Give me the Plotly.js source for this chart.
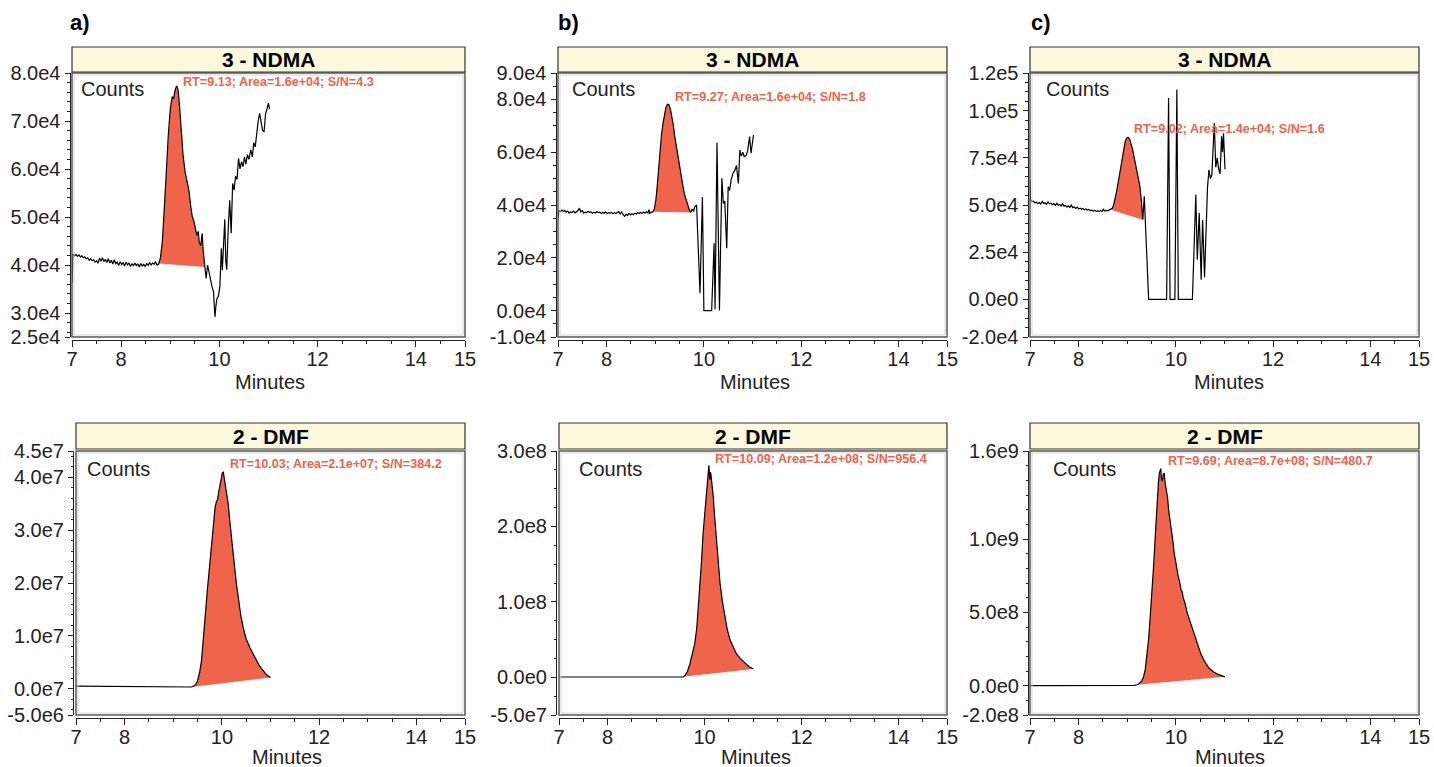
<!DOCTYPE html>
<html><head><meta charset="utf-8">
<script src="https://cdn.plot.ly/plotly-3.0.1.min.js"></script>
<style>html,body{margin:0;padding:0;background:#fff}#chart{width:1434px;height:767px}</style>
</head><body><div id="chart"></div>
<script>
// ---------------- DATA ----------------
const panelLetters = ['a)', 'b)', 'c)'];
const compoundTitles = ['3 - NDMA', '2 - DMF'];
const xTickVals = [7, 8, 10, 12, 14, 15];
const xTickText = ['7', '8', '10', '12', '14', '15'];
const xRange = [7, 15];

// 3 - NDMA, sample a
const ndmaA_t = [7.00,7.02,7.05,7.08,7.11,7.14,7.17,7.20,7.23,7.26,7.29,7.32,7.35,7.38,7.41,7.44,7.47,7.50,7.53,7.56,7.59,7.62,7.65,7.68,7.71,7.74,7.77,7.80,7.83,7.86,7.89,7.92,7.95,7.98,8.01,8.04,8.07,8.10,8.13,8.16,8.19,8.22,8.25,8.28,8.31,8.34,8.37,8.40,8.43,8.46,8.49,8.52,8.55,8.58,8.61,8.64,8.67,8.70,8.73,8.76,8.80,8.84,8.88,8.92,8.96,9.00,9.04,9.07,9.10,9.13,9.16,9.19,9.22,9.26,9.30,9.34,9.38,9.42,9.45,9.48,9.51,9.54,9.57,9.59,9.62,9.65,9.67,9.70,9.73,9.76,9.79,9.82,9.85,9.88,9.91,9.93,9.95,9.98,10.01,10.04,10.06,10.08,10.11,10.13,10.15,10.18,10.21,10.24,10.27,10.30,10.33,10.36,10.39,10.42,10.45,10.48,10.51,10.54,10.57,10.60,10.64,10.67,10.70,10.73,10.76,10.79,10.82,10.85,10.88,10.91,10.94,10.97,11.00,11.02];
const ndmaA_v = [36300,42300,41900,42200,41800,42100,41700,41900,41500,41700,41300,41500,41000,41300,40900,41100,40600,40900,40400,41400,40800,41500,40700,41200,40500,41300,40400,41000,40200,41100,40300,40600,39900,40700,40100,40500,39800,40600,40000,40400,39700,40300,39800,40400,39900,40200,39600,40300,39800,40100,39700,40300,39900,40500,40000,40400,40200,40700,40000,40100,41500,45000,52000,60000,67000,72500,75000,74800,76500,77300,76500,73000,68000,63000,59500,57500,55500,52000,50000,49200,47500,46200,47000,44800,44000,46600,43000,39600,37200,40000,38300,36500,35500,34500,29200,31500,33000,33500,35500,43500,38900,43100,49500,41000,39000,47500,53500,46600,57000,55600,58500,57800,62200,60000,61500,60500,62500,61000,63000,62000,64000,62500,65500,64600,68000,70000,71600,69500,68000,67800,71500,72500,73700,72500];
const ndmaA_peak = [8.64, 9.70];
const ndmaA_yTicks = [25000, 30000, 40000, 50000, 60000, 70000, 80000];
const ndmaA_yText = ['2.5e4', '3.0e4', '4.0e4', '5.0e4', '6.0e4', '7.0e4', '8.0e4'];
const ndmaA_yRange = [25000, 80000];
const ndmaA_label = 'RT=9.13; Area=1.6e+04; S/N=4.3';

// 3 - NDMA, sample b
const ndmaB_t = [7.00,7.02,7.05,7.08,7.11,7.14,7.17,7.20,7.23,7.26,7.29,7.32,7.35,7.38,7.41,7.44,7.47,7.50,7.53,7.56,7.59,7.62,7.65,7.68,7.71,7.74,7.77,7.80,7.83,7.86,7.89,7.92,7.95,7.98,8.01,8.04,8.07,8.10,8.13,8.16,8.19,8.22,8.25,8.28,8.31,8.34,8.37,8.40,8.43,8.46,8.49,8.52,8.55,8.58,8.61,8.64,8.67,8.70,8.73,8.76,8.79,8.82,8.85,8.87,8.89,8.92,8.95,8.98,9.01,9.04,9.07,9.10,9.13,9.16,9.19,9.22,9.25,9.28,9.31,9.34,9.37,9.40,9.43,9.46,9.49,9.52,9.55,9.58,9.61,9.64,9.67,9.70,9.73,9.76,9.79,9.81,9.85,9.87,9.89,9.92,9.97,10.00,10.16,10.21,10.23,10.27,10.32,10.37,10.40,10.43,10.47,10.50,10.53,10.56,10.60,10.64,10.67,10.71,10.74,10.77,10.80,10.83,10.87,10.90,10.94,10.97,11.02];
const ndmaB_v = [35000,37900,37500,38100,37600,37900,37300,37700,36900,37400,37200,37700,37000,37500,37900,38800,37400,37900,36900,37300,37100,37600,37200,37400,36900,37300,37000,37500,37100,37300,36800,37200,36900,37300,36800,37100,36900,37200,36700,37100,36800,37200,37500,36600,37400,36300,35700,36500,36000,36800,36200,36700,36300,36900,36600,37100,36800,37200,36900,37300,37000,37400,37000,38200,36800,37300,37400,38500,41500,47000,54000,61000,67000,71000,74500,77000,78200,78000,76500,74000,70500,66000,62500,58500,54800,51500,48500,46000,43500,41500,39800,38200,37200,38500,37600,39200,40000,30000,26800,6600,43000,0,0,25500,500,63600,0,50100,40600,41500,23600,46900,45500,49500,52000,53300,55000,48200,60800,58500,60000,58300,58800,60500,65900,59600,66500];
const ndmaB_peak = [8.95, 9.73];
const ndmaB_yTicks = [-10000, 0, 20000, 40000, 60000, 80000, 90000];
const ndmaB_yText = ['-1.0e4', '0.0e4', '2.0e4', '4.0e4', '6.0e4', '8.0e4', '9.0e4'];
const ndmaB_yRange = [-10000, 90000];
const ndmaB_label = 'RT=9.27; Area=1.6e+04; S/N=1.8';

// 3 - NDMA, sample c
const ndmaC_t = [7.00,7.01,7.04,7.07,7.10,7.13,7.16,7.19,7.22,7.25,7.28,7.31,7.34,7.37,7.40,7.43,7.46,7.49,7.52,7.55,7.58,7.61,7.64,7.67,7.70,7.73,7.76,7.79,7.82,7.85,7.88,7.91,7.94,7.97,8.00,8.03,8.06,8.09,8.12,8.15,8.18,8.21,8.24,8.27,8.30,8.33,8.36,8.39,8.42,8.45,8.48,8.51,8.54,8.57,8.60,8.63,8.66,8.69,8.72,8.75,8.78,8.81,8.84,8.87,8.90,8.93,8.96,8.99,9.02,9.05,9.08,9.11,9.14,9.17,9.20,9.23,9.26,9.29,9.32,9.35,9.37,9.44,9.81,9.85,9.88,9.98,10.02,10.05,10.34,10.41,10.44,10.48,10.52,10.55,10.59,10.63,10.65,10.68,10.71,10.74,10.77,10.79,10.82,10.85,10.88,10.91,10.94,10.96,10.98,11.01];
const ndmaC_v = [63400,53000,51800,52000,51200,51500,50800,51300,50500,51900,50800,51200,50300,51700,50600,50900,50100,50700,49800,50900,49900,50300,49500,50600,49400,49800,48900,49600,48700,49900,48600,49000,48200,48900,47900,48300,47700,48100,47500,47900,47300,47600,47000,47300,46800,47100,46700,46900,46600,47100,46600,47700,46800,47100,46900,47300,47500,48200,50000,53000,57000,61500,66500,71500,76500,81000,84000,85500,85800,84800,82500,79500,75500,71500,68000,64500,60000,52500,42200,54600,42000,0,0,106700,0,0,111200,0,0,55500,21000,45800,10400,42000,11700,50200,59000,68700,64000,66000,79300,93500,70000,75000,69000,66500,86400,78000,88000,69000];
const ndmaC_peak = [8.66, 9.32];
const ndmaC_yTicks = [-20000, 0, 25000, 50000, 75000, 100000, 120000];
const ndmaC_yText = ['-2.0e4', '0.0e0', '2.5e4', '5.0e4', '7.5e4', '1.0e5', '1.2e5'];
const ndmaC_yRange = [-20000, 120000];
const ndmaC_label = 'RT=9.02; Area=1.4e+04; S/N=1.6';

// 2 - DMF, sample a
const dmfA_t = [7.00,7.50,8.00,8.50,9.00,9.30,9.38,9.42,9.46,9.50,9.54,9.58,9.62,9.66,9.70,9.74,9.78,9.82,9.86,9.89,9.91,9.93,9.96,9.99,10.01,10.03,10.05,10.07,10.10,10.13,10.16,10.20,10.24,10.27,10.30,10.34,10.39,10.44,10.50,10.58,10.65,10.72,10.78,10.85,10.92,11.00];
const dmfA_v = [450000,420000,380000,340000,300000,280000,300000,500000,700000,1500000,3000000,5200000,9000000,14000000,18500000,22500000,26500000,30500000,34300000,35500000,35700000,37000000,38800000,40300000,40900000,41000000,39800000,39300000,37000000,35000000,32000000,28000000,24800000,22300000,19800000,16600000,13800000,11500000,9400000,7700000,6300000,5200000,4200000,3300000,2600000,2100000];
const dmfA_peak = [9.38, 11.00];
const dmfA_yTicks = [-5e6, 0, 1e7, 2e7, 3e7, 4e7, 4.5e7];
const dmfA_yText = ['-5.0e6', '0.0e7', '1.0e7', '2.0e7', '3.0e7', '4.0e7', '4.5e7'];
const dmfA_yRange = [-5e6, 4.5e7];
const dmfA_label = 'RT=10.03; Area=2.1e+07; S/N=384.2';

// 2 - DMF, sample b
const dmfB_t = [7.00,7.50,8.00,8.50,9.00,9.30,9.50,9.56,9.60,9.65,9.70,9.75,9.80,9.84,9.87,9.91,9.94,9.97,10.01,10.04,10.06,10.08,10.09,10.10,10.11,10.12,10.13,10.15,10.18,10.21,10.25,10.28,10.32,10.37,10.42,10.47,10.53,10.60,10.66,10.75,10.84,10.92,11.01];
const dmfB_v = [400000,380000,350000,330000,300000,280000,300000,600000,2500000,8000000,18000000,30000000,45000000,65000000,89000000,122000000,155000000,190000000,222000000,245000000,262000000,278000000,281000000,272000000,262000000,272000000,270000000,258000000,240000000,212000000,178000000,150000000,125000000,100000000,80000000,63000000,49000000,39000000,31000000,24000000,18000000,14000000,11000000];
const dmfB_peak = [9.56, 11.01];
const dmfB_yTicks = [-5e7, 0, 1e8, 2e8, 3e8];
const dmfB_yText = ['-5.0e7', '0.0e0', '1.0e8', '2.0e8', '3.0e8'];
const dmfB_yRange = [-5e7, 3e8];
const dmfB_label = 'RT=10.09; Area=1.2e+08; S/N=956.4';

// 2 - DMF, sample c
const dmfC_t = [7.00,7.50,8.00,8.50,9.00,9.15,9.20,9.25,9.30,9.33,9.37,9.40,9.44,9.47,9.51,9.54,9.58,9.61,9.64,9.66,9.67,9.69,9.70,9.72,9.74,9.76,9.78,9.80,9.81,9.83,9.85,9.87,9.88,9.90,9.92,9.94,9.95,9.97,9.99,10.02,10.04,10.05,10.07,10.09,10.11,10.13,10.15,10.19,10.23,10.29,10.35,10.43,10.51,10.60,10.68,10.77,10.88,11.01];
const dmfC_v = [500000,450000,400000,350000,300000,2000000,6000000,15000000,35000000,55000000,110000000,190000000,320000000,460000000,640000000,805000000,1040000000,1260000000,1380000000,1450000000,1460000000,1480000000,1420000000,1395000000,1440000000,1450000000,1380000000,1340000000,1300000000,1280000000,1200000000,1160000000,1110000000,1080000000,1030000000,980000000,940000000,890000000,860000000,790000000,770000000,740000000,720000000,680000000,650000000,640000000,600000000,560000000,500000000,440000000,380000000,290000000,220000000,160000000,120000000,95000000,75000000,60000000];
const dmfC_peak = [9.20, 11.01];
const dmfC_yTicks = [-2e8, 0, 5e8, 1e9, 1.6e9];
const dmfC_yText = ['-2.0e8', '0.0e0', '5.0e8', '1.0e9', '1.6e9'];
const dmfC_yRange = [-2e8, 1.6e9];
const dmfC_label = 'RT=9.69; Area=8.7e+08; S/N=480.7';

// ---------------- LAYOUT (pixel geometry) ----------------
const W = 1434, H = 767;
const FONT = 'Liberation Sans, Arial, Helvetica, sans-serif';
const INK = '#222';
const PEAK_FILL = '#f0644b';
const PEAK_TEXT = '#f0624a';
const px = v => v / W;
const py = v => 1 - v / H;

const panels = [
  {t: ndmaA_t, v: ndmaA_v, peak: ndmaA_peak, yt: ndmaA_yTicks, ytx: ndmaA_yText, yr: ndmaA_yRange, minor: 2000, label: ndmaA_label, title: compoundTitles[0],
   box: [72, 465, 73, 337], yLine: 69.5, xLine: 340, tbox: [47, 72], lab: [181, 82], cnt: [79, 89], mins: [270, 382]},
  {t: ndmaB_t, v: ndmaB_v, peak: ndmaB_peak, yt: ndmaB_yTicks, ytx: ndmaB_yText, yr: ndmaB_yRange, minor: 5000, label: ndmaB_label, title: compoundTitles[0],
   box: [558, 947, 73, 337], yLine: 555.5, xLine: 340, tbox: [47, 72], lab: [673, 97], cnt: [570, 89], mins: [755, 382]},
  {t: ndmaC_t, v: ndmaC_v, peak: ndmaC_peak, yt: ndmaC_yTicks, ytx: ndmaC_yText, yr: ndmaC_yRange, minor: 5000, label: ndmaC_label, title: compoundTitles[0],
   box: [1030, 1419, 73, 337], yLine: 1027.5, xLine: 340, tbox: [47, 72], lab: [1132, 129], cnt: [1044, 89], mins: [1229, 382]},
  {t: dmfA_t, v: dmfA_v, peak: dmfA_peak, yt: dmfA_yTicks, ytx: dmfA_yText, yr: dmfA_yRange, minor: 2e6, label: dmfA_label, title: compoundTitles[1],
   box: [76, 465, 451, 715], yLine: 73, xLine: 718, tbox: [423, 449], lab: [228, 464], cnt: [85, 469], mins: [287, 757]},
  {t: dmfB_t, v: dmfB_v, peak: dmfB_peak, yt: dmfB_yTicks, ytx: dmfB_yText, yr: dmfB_yRange, minor: 2.5e7, label: dmfB_label, title: compoundTitles[1],
   box: [559, 947, 451, 715], yLine: 556, xLine: 718, tbox: [423, 449], lab: [713, 459], cnt: [577, 469], mins: [756, 757]},
  {t: dmfC_t, v: dmfC_v, peak: dmfC_peak, yt: dmfC_yTicks, ytx: dmfC_yText, yr: dmfC_yRange, minor: 1e8, label: dmfC_label, title: compoundTitles[1],
   box: [1030, 1419, 451, 715], yLine: 1028, xLine: 718, tbox: [423, 449], lab: [1166, 461], cnt: [1051, 469], mins: [1230, 757]}
];
const letterPos = [[68, 22], [556, 22], [1029, 22]];

const traces = [];
const layout = {
  width: W, height: H,
  margin: {l: 0, r: 0, t: 0, b: 0},
  paper_bgcolor: '#fff', plot_bgcolor: '#fff',
  showlegend: false, hovermode: false,
  font: {family: FONT, color: INK, size: 20},
  shapes: [], annotations: []
};

panels.forEach((p, i) => {
  const n = i + 1;
  const xa = 'x' + n, ya = 'y' + n;
  const [L, R, T, B] = p.box;
  // peak fill polygon from the data between integration limits
  const ft = [], fv = [];
  p.t.forEach((tt, k) => { if (tt >= p.peak[0] - 1e-9 && tt <= p.peak[1] + 1e-9) { ft.push(tt); fv.push(p.v[k]); } });
  traces.push({x: ft, y: fv, xaxis: xa, yaxis: ya, type: 'scatter', mode: 'lines', fill: 'toself',
    fillcolor: PEAK_FILL, line: {width: 0, color: PEAK_FILL}});
  traces.push({x: p.t, y: p.v, xaxis: xa, yaxis: ya, type: 'scatter', mode: 'lines',
    line: {color: '#000', width: 1.2}});

  const xKey = 'xaxis' + (n === 1 ? '' : n), yKey = 'yaxis' + (n === 1 ? '' : n);
  layout[xKey] = {
    domain: [px(L), px(R)], anchor: 'free', position: py(p.xLine), range: xRange,
    tickmode: 'array', tickvals: xTickVals, ticktext: xTickText,
    ticks: 'outside', ticklen: 6, tickcolor: INK, tickwidth: 1, ticklabelstandoff: -5,
    minor: {tickmode: 'linear', tick0: 7, dtick: 0.5, ticks: 'outside', ticklen: 3, tickcolor: INK},
    showline: true, linecolor: INK, linewidth: 1, showgrid: false, zeroline: false,
    tickfont: {size: 20, color: INK, family: FONT}, fixedrange: true
  };
  layout[yKey] = {
    domain: [py(B), py(T)], anchor: 'free', position: px(p.yLine), range: p.yr,
    tickmode: 'array', tickvals: p.yt, ticktext: p.ytx,
    ticks: 'outside', ticklen: 5, tickcolor: INK, tickwidth: 1,
    minor: {tickmode: 'linear', tick0: 0, dtick: p.minor, ticks: 'outside', ticklen: 2.5, tickcolor: INK},
    showline: true, linecolor: INK, linewidth: 1, showgrid: false, zeroline: false,
    tickfont: {size: 20, color: INK, family: FONT}, fixedrange: true
  };
  // plot frame (dark outer, light inner)
  layout.shapes.push({type: 'rect', xref: 'paper', yref: 'paper', x0: px(L), x1: px(R), y0: py(B), y1: py(T),
    line: {color: '#5a5a5a', width: 1.5}, fillcolor: 'rgba(0,0,0,0)'});
  layout.shapes.push({type: 'rect', xref: 'paper', yref: 'paper', x0: px(L + 2), x1: px(R - 2), y0: py(B - 2), y1: py(T + 2),
    line: {color: '#d4d4d4', width: 1}, fillcolor: 'rgba(0,0,0,0)'});
  // title box
  layout.shapes.push({type: 'rect', xref: 'paper', yref: 'paper', x0: px(L), x1: px(R), y0: py(p.tbox[1]), y1: py(p.tbox[0]),
    line: {color: '#333', width: 1.2}, fillcolor: '#fcf8dc'});
  layout.annotations.push({xref: 'paper', yref: 'paper', x: px((L + R) / 2), y: py((p.tbox[0] + p.tbox[1]) / 2),
    text: '<b>' + p.title + '</b>', showarrow: false, xanchor: 'center', yanchor: 'middle',
    font: {size: 21, color: '#000', family: FONT}});
  // peak label
  layout.annotations.push({xref: 'paper', yref: 'paper', x: px(p.lab[0]), y: py(p.lab[1]),
    text: '<b>' + p.label + '</b>', showarrow: false, xanchor: 'left', yanchor: 'middle',
    font: {size: 12.6, color: PEAK_TEXT, family: FONT}});
  // Counts
  layout.annotations.push({xref: 'paper', yref: 'paper', x: px(p.cnt[0]), y: py(p.cnt[1]),
    text: 'Counts', showarrow: false, xanchor: 'left', yanchor: 'middle',
    font: {size: 20, color: INK, family: FONT}});
  // Minutes
  layout.annotations.push({xref: 'paper', yref: 'paper', x: px(p.mins[0]), y: py(p.mins[1]),
    text: 'Minutes', showarrow: false, xanchor: 'center', yanchor: 'middle',
    font: {size: 20, color: INK, family: FONT}});
});

panelLetters.forEach((s, i) => {
  layout.annotations.push({xref: 'paper', yref: 'paper', x: px(letterPos[i][0]), y: py(letterPos[i][1]),
    text: '<b>' + s + '</b>', showarrow: false, xanchor: 'left', yanchor: 'middle',
    font: {size: 22, color: '#000', family: FONT}});
});

Plotly.newPlot('chart', traces, layout, {displayModeBar: false, staticPlot: true});
</script>
</body></html>
